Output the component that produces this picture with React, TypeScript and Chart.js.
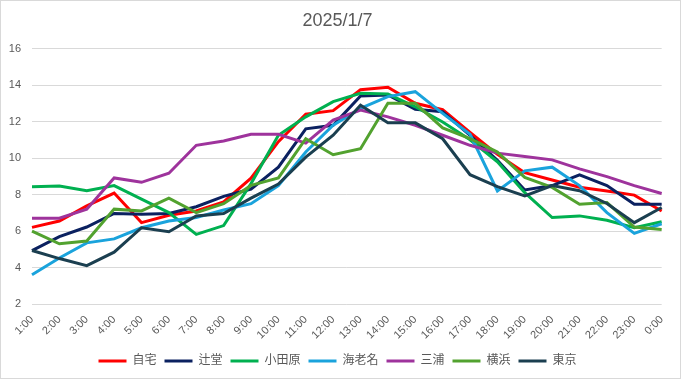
import React, { useEffect, useRef } from "react";
import { Chart, registerables } from "chart.js";

Chart.register(...registerables);

const TITLE = "2025/1/7";
const HOURS = [
  "1:00", "2:00", "3:00", "4:00", "5:00", "6:00", "7:00", "8:00", "9:00", "10:00", "11:00", "12:00",
  "13:00", "14:00", "15:00", "16:00", "17:00", "18:00", "19:00", "20:00", "21:00", "22:00", "23:00", "0:00",
];
const SERIES_NAMES = ["自宅", "辻堂", "小田原", "海老名", "三浦", "横浜", "東京"];
const SERIES_COLORS = ["#FF0000", "#0B2160", "#00B050", "#1AA3DC", "#9E339C", "#52A22F", "#1B3F50"];

const jitaku = [6.2, 6.55, 7.38, 8.08, 6.46, 6.86, 7.1, 7.6, 8.9, 10.9, 12.4, 12.6, 13.75, 13.88, 13.0, 12.65, 11.4, 10.2, 9.2, 8.8, 8.4, 8.2, 7.97, 7.1];
const tsujido = [4.93, 5.69, 6.22, 6.96, 6.92, 6.96, 7.33, 7.9, 8.3, 9.5, 11.6, 11.8, 13.4, 13.46, 12.67, 12.54, 11.25, 9.87, 8.25, 8.49, 9.08, 8.49, 7.47, 7.47];
const odawara = [8.43, 8.47, 8.21, 8.49, 7.75, 7.01, 5.82, 6.3, 8.6, 11.25, 12.26, 13.09, 13.55, 13.51, 12.81, 11.98, 11.0, 9.8, 8.1, 6.74, 6.83, 6.59, 6.18, 6.51];
const ebina = [3.6, 4.52, 5.35, 5.57, 6.18, 6.55, 6.74, 7.15, 7.5, 8.49, 10.33, 11.8, 12.72, 13.37, 13.64, 12.45, 11.3, 8.2, 9.3, 9.5, 8.49, 7.01, 5.87, 6.4];
const miura = [6.7, 6.7, 7.2, 8.91, 8.67, 9.17, 10.7, 10.94, 11.3, 11.3, 10.82, 12.08, 12.63, 12.26, 11.8, 11.25, 10.7, 10.27, 10.09, 9.9, 9.41, 8.98, 8.49, 8.06];
const yokohama = [6.0, 5.3, 5.45, 7.2, 7.1, 7.8, 7.01, 7.5, 8.5, 8.91, 11.06, 10.18, 10.51, 13.0, 13.0, 11.65, 11.06, 10.33, 8.94, 8.39, 7.47, 7.56, 6.22, 6.09];
const tokyo = [4.93, 4.49, 4.1, 4.84, 6.18, 5.96, 6.83, 6.96, 7.8, 8.58, 10.05, 11.25, 12.9, 11.93, 11.93, 11.06, 9.09, 8.43, 7.93, 8.49, 8.21, 7.51, 6.46, 7.29];

const SERIES_VALUES = [jitaku, tsujido, odawara, ebina, miura, yokohama, tokyo];
const Y_MIN = 2;
const Y_MAX = 16;
const Y_STEP = 2;

const FONT = '"Liberation Sans", "Noto Sans CJK JP", sans-serif';
const TEXT = "#595959";

export default function App() {
  const ref = useRef<HTMLCanvasElement | null>(null);

  useEffect(() => {
    document.body.style.margin = "0";
    const canvas = ref.current;
    if (!canvas) return;
    const n = SERIES_NAMES.length;
    const chart = new Chart(canvas, {
      type: "line",
      data: {
        labels: HOURS,
        datasets: SERIES_NAMES.map((name, i) => ({
          label: name,
          data: SERIES_VALUES[i],
          borderColor: SERIES_COLORS[i],
          backgroundColor: SERIES_COLORS[i],
          borderWidth: 3,
          pointRadius: 0,
          tension: 0,
          order: n - 1 - i,
        })),
      },
      options: {
        animation: false,
        responsive: true,
        maintainAspectRatio: false,
        layout: { padding: { left: 7, right: 13, top: 0, bottom: 1 } },
        plugins: {
          title: {
            display: true,
            text: TITLE,
            color: TEXT,
            font: { family: FONT, size: 18, weight: "normal" },
            padding: { top: 9, bottom: 17 },
          },
          legend: {
            position: "bottom",
            labels: {
              color: TEXT,
              font: { family: FONT, size: 12 },
              boxWidth: 28,
              boxHeight: 3,
              padding: 8,
              sort: (a: any, b: any) => a.datasetIndex - b.datasetIndex,
              generateLabels: (c: any) =>
                Chart.defaults.plugins.legend.labels.generateLabels(c).map((l: any) => ({ ...l, lineWidth: 0 })),
            },
          },
          tooltip: { enabled: false },
        },
        scales: {
          x: {
            grid: { display: false, drawTicks: false },
            border: { display: false },
            ticks: {
              color: TEXT,
              font: { family: FONT, size: 11 },
              autoSkip: false,
              maxRotation: 45,
              minRotation: 45,
              padding: 9,
            },
            afterFit: (s: any) => {
              s.height = 43;
            },
          },
          y: {
            min: Y_MIN,
            max: Y_MAX,
            grid: { color: "#D9D9D9", lineWidth: 1, drawTicks: false },
            border: { display: false },
            ticks: {
              stepSize: Y_STEP,
              color: TEXT,
              font: { family: FONT, size: 11 },
              padding: 11,
            },
            afterFit: (s: any) => {
              s.width = 24;
            },
          },
        },
      },
    });
    return () => chart.destroy();
  }, []);

  return (
    <div
      style={{
        position: "absolute",
        left: 0,
        top: 0,
        width: 681,
        height: 379,
        boxSizing: "border-box",
        border: "1px solid #D9D9D9",
        background: "#fff",
      }}
    >
      <div style={{ position: "relative", width: 679, height: 377 }}>
        <canvas ref={ref} />
      </div>
    </div>
  );
}
